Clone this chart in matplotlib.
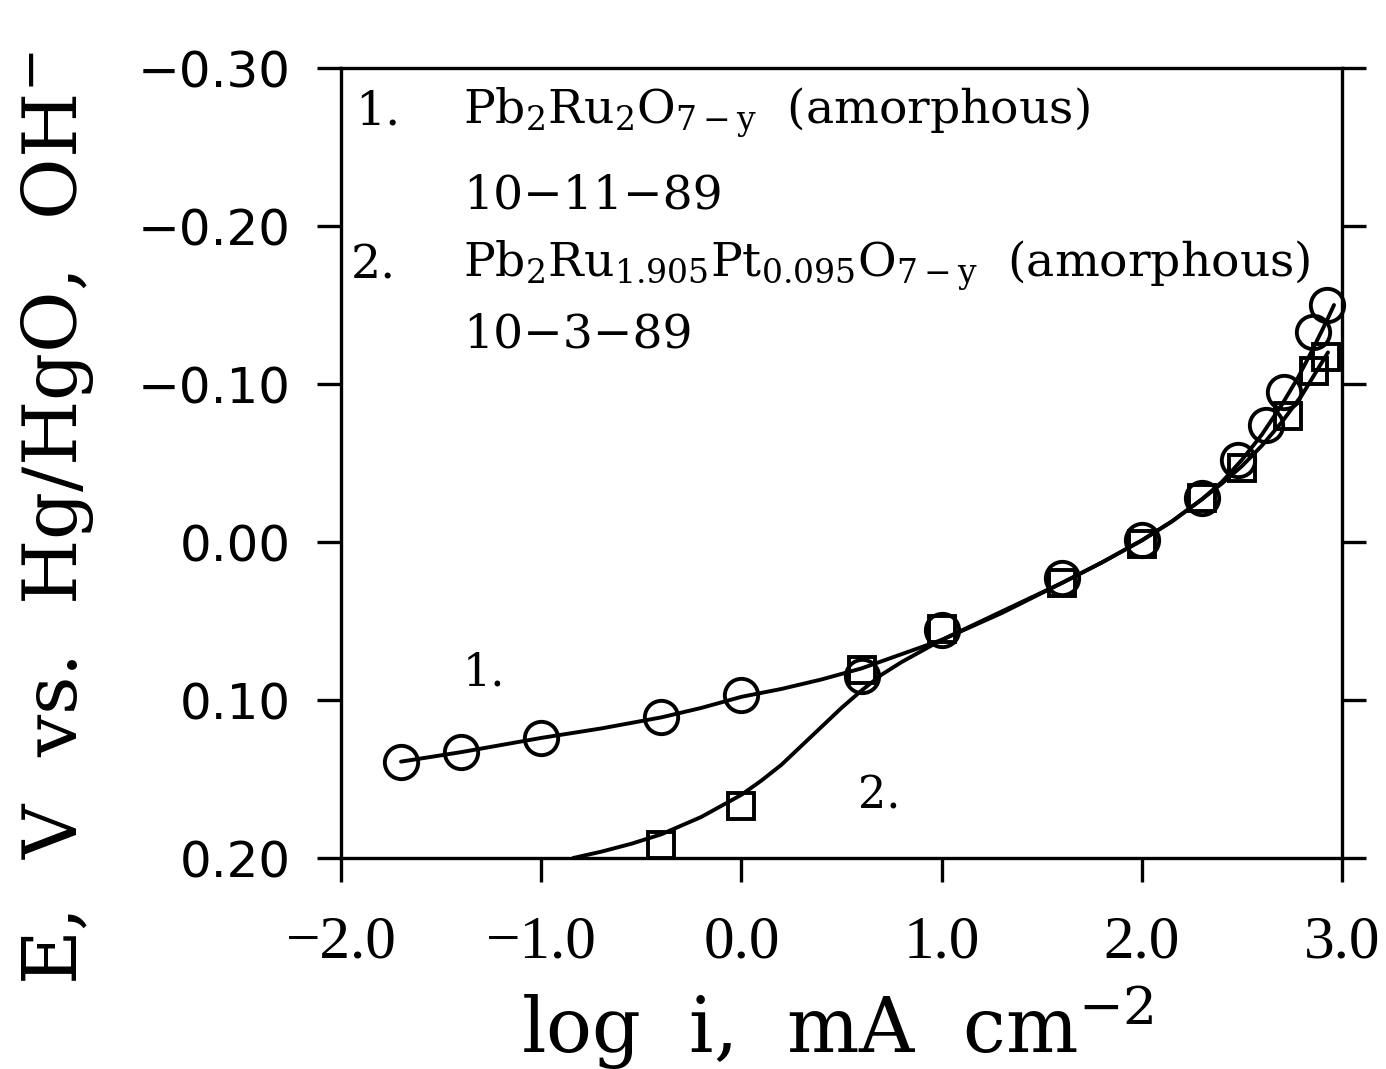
import matplotlib
matplotlib.use("Agg")
import matplotlib.pyplot as plt

# measured points, sample 1 (circles) and sample 2 (squares)
circ_x = [-1.7, -1.4, -1.0, -0.4, 0.0, 0.6, 1.0, 1.6, 2.0, 2.3, 2.48, 2.62, 2.71, 2.855, 2.925]
circ_y = [0.139, 0.133, 0.124, 0.111, 0.097, 0.085, 0.056, 0.023, -0.001, -0.028, -0.052, -0.074, -0.095, -0.133, -0.150]

sq_x = [-0.4, 0.0, 0.6, 1.0, 1.6, 2.0, 2.3, 2.5, 2.73, 2.86, 2.92]
sq_y = [0.192, 0.167, 0.081, 0.055, 0.026, 0.001, -0.028, -0.047, -0.080, -0.108, -0.117]

# fitted curves
fit1_x = [-1.7, -1.4, -1.0, -0.7, -0.4, -0.2, 0.0, 0.2, 0.4, 0.6, 0.8, 1.0, 1.3, 1.6, 1.8, 2.0,
          2.15, 2.3, 2.4, 2.5, 2.6, 2.7, 2.78, 2.85, 2.92, 2.96]
fit1_y = [0.139, 0.133, 0.124, 0.118, 0.111, 0.105, 0.098, 0.093, 0.087, 0.080, 0.071, 0.062, 0.045,
          0.026, 0.013, -0.001, -0.013, -0.027, -0.038, -0.052, -0.068, -0.087, -0.104, -0.121,
          -0.139, -0.150]

fit2_x = [-0.84, -0.7, -0.55, -0.4, -0.2, 0.0, 0.1, 0.2, 0.3, 0.4, 0.5, 0.6, 0.7, 0.8, 0.9, 1.0,
          1.3, 1.6, 1.8, 2.0, 2.15, 2.3, 2.4, 2.5, 2.6, 2.7, 2.8, 2.93]
fit2_y = [0.200, 0.196, 0.191, 0.185, 0.174, 0.160, 0.151, 0.141, 0.129, 0.117, 0.105, 0.094, 0.084,
          0.076, 0.069, 0.062, 0.044, 0.026, 0.013, -0.001, -0.013, -0.027, -0.037, -0.048, -0.061,
          -0.076, -0.093, -0.120]

xticks = [-2.0, -1.0, 0.0, 1.0, 2.0, 3.0]
xtick_labels = ["\u22122.0", "\u22121.0", "0.0", "1.0", "2.0", "3.0"]
yticks = [-0.30, -0.20, -0.10, 0.00, 0.10, 0.20]
ytick_labels = ["\u22120.30", "\u22120.20", "\u22120.10", "0.00", "0.10", "0.20"]

plt.rcParams['mathtext.fontset'] = 'dejavuserif'

fig = plt.figure(figsize=(13.86, 10.69), dpi=100)
ax = fig.add_axes([341 / 1386, 1 - 858 / 1069, (1342 - 341) / 1386, (858 - 68) / 1069])

lw = 2.8
ax.plot(fit1_x, fit1_y, color='black', lw=lw, solid_capstyle='round', solid_joinstyle='round')
ax.plot(fit2_x, fit2_y, color='black', lw=lw, solid_capstyle='round', solid_joinstyle='round')
ax.plot(circ_x, circ_y, 'o', ms=24, mfc='none', mec='black', mew=lw, clip_on=False)
ax.plot(sq_x, sq_y, 's', ms=19, mfc='none', mec='black', mew=lw, clip_on=False)

ax.set_xlim(-2.0, 3.0)
ax.set_ylim(0.20, -0.30)

for s in ax.spines.values():
    s.set_linewidth(2.4)

ax.set_xticks(xticks)
ax.set_xticklabels(xtick_labels, fontfamily='Liberation Serif', fontsize=44)
ax.set_yticks(yticks)
ax.set_yticklabels(ytick_labels, fontfamily='DejaVu Sans', fontsize=36)
ax.tick_params(axis='x', direction='out', length=17, width=2.4, top=False, pad=24)
ax.tick_params(axis='y', direction='out', length=17, width=2.4, right=True, pad=19)

ax.set_xlabel(r"log  i,  mA  cm$^{-2}$", fontfamily='DejaVu Serif', fontsize=55)
ax.set_ylabel(r"E,  V  vs.  Hg/HgO,  OH$^{-}$", fontfamily='DejaVu Serif', fontsize=54)
ax.xaxis.set_label_coords(0.496, -0.158)
ax.yaxis.set_label_coords(-0.245, 0.43)

# legend block, written as text like the original
tfont = dict(fontfamily='DejaVu Serif', fontsize=34, va='center', ha='left')
ax.text(-1.93, -0.272, "1.", **tfont)
ax.text(-1.39, -0.272, r"Pb$_2$Ru$_2$O$_{7-\mathrm{y}}$  (amorphous)", **tfont)
ax.text(-1.39, -0.219, "10\u221211\u221289", **tfont)
ax.text(-1.95, -0.175, "2.", **tfont)
ax.text(-1.39, -0.175, r"Pb$_2$Ru$_{1.905}$Pt$_{0.095}$O$_{7-\mathrm{y}}$  (amorphous)", **tfont)
ax.text(-1.39, -0.131, "10\u22123\u221289", **tfont)

# curve labels
ax.text(-1.39, 0.083, "1.", fontfamily='DejaVu Serif', fontsize=32, va='center', ha='left')
ax.text(0.58, 0.161, "2.", fontfamily='DejaVu Serif', fontsize=32, va='center', ha='left')

fig.savefig("out.png", dpi=100)
